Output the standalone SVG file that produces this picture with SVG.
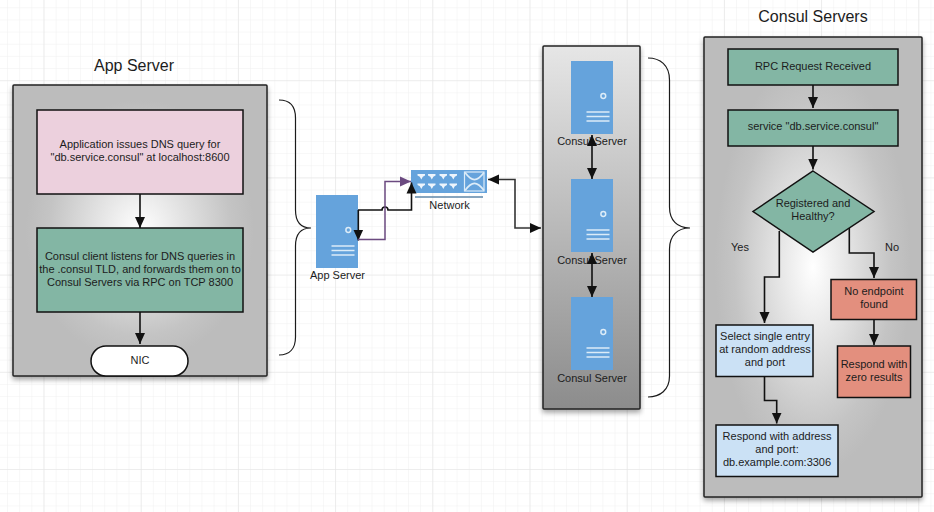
<svg xmlns="http://www.w3.org/2000/svg" width="934" height="512" viewBox="0 0 934 512">
<style>
text{font-family:"Liberation Sans",Arial,sans-serif;fill:#1c1c1c;text-anchor:middle}
.t{font-size:11px}
.h{font-size:16px}
.panel{stroke:#222;stroke-width:1.5;filter:url(#sh)}
.box{stroke:#111;stroke-width:1.5}
.green{fill:#83b6a4}
.red{fill:#e38f7e}
.blue{fill:#cbe1f5}
.srv{fill:#65a3dc}
.wl{stroke:#dcecf8;stroke-width:1.7;fill:none}
.c{fill:none;stroke:#111;stroke-width:1.6}
.b{fill:none;stroke:#1a1a1a;stroke-width:1.2}
</style>
<defs>
<marker id="a" markerUnits="userSpaceOnUse" markerWidth="12" markerHeight="12" viewBox="0 0 12 12" refX="11" refY="6" orient="auto-start-reverse"><path d="M0 1L11 6L0 11z" fill="#111"/></marker>
<marker id="p" markerUnits="userSpaceOnUse" markerWidth="12" markerHeight="12" viewBox="0 0 12 12" refX="11" refY="6" orient="auto"><path d="M0 1L11 6L0 11z" fill="#6b4a80"/></marker>
<radialGradient id="rg1" cx="50%" cy="50%" r="50%"><stop offset="0" stop-color="#fff"/><stop offset="0.72" stop-color="#c4c4c4"/><stop offset="0.9" stop-color="#bcbcbc"/></radialGradient>
<linearGradient id="lg" x1="0" y1="0" x2="0" y2="1"><stop offset="0" stop-color="#e6e6e6"/><stop offset="1" stop-color="#8c8c8c"/></linearGradient>
<filter id="sh" x="-5%" y="-5%" width="110%" height="110%"><feDropShadow dx="0" dy="3" stdDeviation="2.500" flood-color="#000" flood-opacity="0.35"/></filter>
<pattern id="minor" patternUnits="userSpaceOnUse" x="43.500" y="-17" width="12.150" height="12.150"><path d="M0 0V12.150M0 0H12.150" fill="none" stroke="#f0f0f0" stroke-width="1"/></pattern>
<pattern id="major" patternUnits="userSpaceOnUse" x="43.500" y="-17" width="97.200" height="97.200"><path d="M0 0V97.200M0 0H97.200" fill="none" stroke="#e4e4e4" stroke-width="1.200"/></pattern>
<g id="srvicon"><rect width="42" height="73" class="srv"/><circle cx="32.300" cy="35" r="2.400" fill="#65a3dc" stroke="#dcecf8" stroke-width="1.500"/><path d="M15.500 51H38.500M15.500 55.500H38.500M15.500 60H38.500" class="wl"/></g>
<path id="tri" d="M0 0h7.500v1.500l-2.200 1.200l-1.500 2.800l-1.500-2.800l-2.300-1.200z" fill="#eef5fc"/>
</defs>
<rect width="934" height="512" fill="#fff"/>
<g id="grid"><rect width="934" height="512" fill="url(#minor)"/><rect width="934" height="512" fill="url(#major)"/></g>
<g id="app-panel">
<rect x="13" y="85" width="254" height="291" rx="1" fill="url(#rg1)" class="panel"/>
<text x="134" y="71" class="h">App Server</text>
</g>
<g id="consul-panel">
<rect x="543" y="46" width="97" height="363" rx="1" fill="url(#lg)" class="panel"/>
</g>
<g id="consul-flow-panel">
<rect x="704" y="37" width="218" height="460" rx="1" fill="url(#rg1)" class="panel"/>
<text x="813" y="22" class="h">Consul Servers</text>
</g>
<g id="dns-query"><rect x="37" y="110" width="206" height="84" fill="#ecd0dd" class="box"/>
<text x="140" y="148" class="t">Application issues DNS query for</text><text x="140" y="161" class="t">"db.service.consul" at localhost:8600</text></g>
<g id="client"><rect x="37" y="228" width="206" height="84" class="box green"/>
<text x="140" y="259.500" class="t">Consul client listens for DNS queries in</text><text x="140" y="272.500" class="t">the .consul TLD, and forwards them on to</text><text x="140" y="286" class="t">Consul Servers via RPC on TCP 8300</text></g>
<g id="nic"><rect x="91" y="346" width="97" height="30" rx="15" fill="#fff" class="box"/><text x="140" y="364" class="t">NIC</text></g>
<g id="app-server"><use href="#srvicon" x="316" y="195"/><text x="337.500" y="279" class="t">App Server</text></g>
<g id="network"><rect x="411" y="170" width="76" height="23" class="srv"/>
<use href="#tri" x="417.500" y="174"/><use href="#tri" x="428" y="174"/><use href="#tri" x="439.500" y="174"/><use href="#tri" x="449.500" y="174"/>
<use href="#tri" x="417.500" y="183.500"/><use href="#tri" x="428" y="183.500"/><use href="#tri" x="439.500" y="183.500"/><use href="#tri" x="449.500" y="183.500"/>
<rect x="464.500" y="172" width="19.500" height="19" fill="none" stroke="#dcecf8" stroke-width="1.200"/><path d="M465 172.500C472 182 477 182 484 172.500M465 190.500C472 181 477 181 484 190.500" class="wl"/>
<path d="M415 197H483" stroke="#5f87a8" stroke-width="1.500"/><text x="449.500" y="208.500" class="t">Network</text></g>
<g id="server-1"><use href="#srvicon" x="571" y="61"/><text x="592" y="145" class="t">Consul Server</text></g>
<g id="server-2"><use href="#srvicon" x="571" y="179"/><text x="592" y="263.500" class="t">Consul Server</text></g>
<g id="server-3"><use href="#srvicon" x="571" y="297"/><text x="592" y="382" class="t">Consul Server</text></g>
<g id="rpc"><rect x="728" y="49" width="170" height="36" class="box green"/><text x="813" y="69.500" class="t">RPC Request Received</text></g>
<g id="service"><rect x="728" y="110" width="170" height="36" class="box green"/><text x="813" y="130" class="t">service "db.service.consul"</text></g>
<g id="decision"><path d="M813 171L874 211.500L813 252L753 211.500Z" class="box green"/><text x="813" y="207" class="t">Registered and</text><text x="813" y="220" class="t">Healthy?</text></g>
<g id="select"><rect x="716" y="325" width="97" height="51.500" class="box blue"/><text x="765" y="340" class="t">Select single entry</text><text x="765" y="353" class="t">at random address</text><text x="765" y="366" class="t">and port</text></g>
<g id="respond-address"><rect x="716" y="425" width="122" height="51.500" class="box blue"/><text x="777" y="440" class="t">Respond with address</text><text x="777" y="453" class="t">and port:</text><text x="777" y="466" class="t">db.example.com:3306</text></g>
<g id="no-endpoint"><rect x="831" y="279.500" width="85.500" height="40" class="box red"/><text x="874" y="295" class="t">No endpoint</text><text x="874" y="308" class="t">found</text></g>
<g id="respond-zero"><rect x="837.500" y="346" width="73" height="51.500" class="box red"/><text x="874" y="368" class="t">Respond with</text><text x="874" y="381" class="t">zero results</text></g>
<g id="labels"><text x="740" y="251" class="t">Yes</text><text x="892" y="251" class="t">No</text></g>
<g id="connectors">
<path class="c" d="M140 194V228" marker-end="url(#a)"/>
<path class="c" d="M140 312V344" marker-end="url(#a)"/>
<path class="c" d="M358 210H382a3 3 0 0 1 6 0H411.500V182.500" marker-end="url(#a)"/>
<path class="c" d="M358.300 210V240.500" marker-end="url(#a)"/>
<path d="M358 239.500H385V181.500H411" fill="none" stroke="#6b4a80" stroke-width="1.500" marker-end="url(#p)"/>
<path class="c" style="stroke:#333" d="M488 179.500H515V228H541" marker-start="url(#a)" marker-end="url(#a)"/>
<path class="c" d="M592 135V179" marker-start="url(#a)" marker-end="url(#a)"/>
<path class="c" d="M592 253V297" marker-start="url(#a)" marker-end="url(#a)"/>
<path class="c" d="M813 85V108" marker-end="url(#a)"/>
<path class="c" d="M813 146V169.500" marker-end="url(#a)"/>
<path class="c" d="M779.300 231V277H764.500V323" marker-end="url(#a)"/>
<path class="c" d="M849.300 228V253H874V278" marker-end="url(#a)"/>
<path class="c" d="M874 319.500V345" marker-end="url(#a)"/>
<path class="c" d="M764.500 376.500V400.500H776.700V423.500" marker-end="url(#a)"/>
<path class="b" d="M279 100C290 100 295.500 106 295.500 118V210C295.500 222 300 228 311 228C300 228 295.500 234 295.500 246V337C295.500 348 290 355 279 355"/>
<path class="b" d="M648 58C660 58 669.500 65 669.500 80V207C669.500 220 677 228 690 228C677 228 669.500 236 669.500 249V376C669.500 390 660 397 648 397"/>
</g>
</svg>
